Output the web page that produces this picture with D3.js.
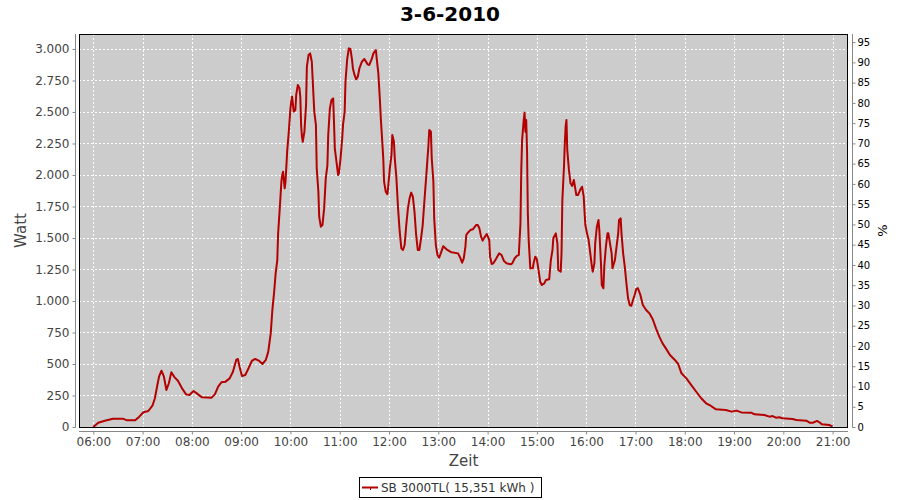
<!DOCTYPE html>
<html><head><meta charset="utf-8">
<script src="https://cdn.jsdelivr.net/npm/d3@7"></script>
<style>body{margin:0;background:#fff}svg{display:block}text{font-family:"DejaVu Sans",sans-serif}</style>
</head><body>
<svg id="c" width="900" height="500"></svg>
<script>
const title = "3-6-2010";
const legendLabel = "SB 3000TL( 15,351 kWh )";
const xTickLabels = ["06:00","07:00","08:00","09:00","10:00","11:00","12:00","13:00","14:00","15:00","16:00","17:00","18:00","19:00","20:00","21:00"];
const yTicksLeft = [0,250,500,750,1000,1250,1500,1750,2000,2250,2500,2750,3000];
const yTicksRight = [0,5,10,15,20,25,30,35,40,45,50,55,60,65,70,75,80,85,90,95];
const times = ["06:00","06:06","06:14","06:24","06:36","06:41","06:51","06:56","07:01","07:07","07:12","07:15","07:18","07:20","07:23","07:26","07:29","07:32","07:35","07:39","07:43","07:48","07:53","07:57","08:02","08:06","08:12","08:24","08:28","08:32","08:36","08:41","08:46","08:50","08:54","08:56","08:58","09:01","09:05","09:09","09:13","09:17","09:22","09:26","09:30","09:33","09:36","09:38","09:40","09:42","09:44","09:45","09:47","09:49","09:50","09:51","09:53","09:54","09:56","09:58","10:00","10:01","10:02","10:04","10:06","10:07","10:09","10:11","10:12","10:13","10:14","10:15","10:17","10:19","10:20","10:22","10:24","10:26","10:27","10:29","10:31","10:32","10:34","10:35","10:37","10:39","10:41","10:43","10:45","10:46","10:48","10:50","10:52","10:53","10:54","10:56","10:58","10:59","11:01","11:03","11:04","11:06","11:07","11:09","11:11","11:13","11:15","11:16","11:18","11:20","11:22","11:24","11:27","11:30","11:34","11:36","11:39","11:41","11:44","11:45","11:47","11:49","11:50","11:51","11:53","11:54","11:56","11:58","11:59","12:01","12:03","12:04","12:06","12:07","12:09","12:11","12:13","12:15","12:17","12:19","12:21","12:23","12:25","12:27","12:29","12:31","12:33","12:35","12:37","12:39","12:41","12:43","12:46","12:48","12:49","12:51","12:52","12:54","12:55","12:57","12:59","13:01","13:03","13:06","13:10","13:16","13:24","13:27","13:29","13:31","13:33","13:34","13:36","13:39","13:42","13:46","13:48","13:50","13:52","13:54","13:56","13:59","14:02","14:03","14:05","14:07","14:10","14:14","14:17","14:20","14:23","14:28","14:30","14:33","14:36","14:38","14:40","14:41","14:42","14:44","14:45","14:46","14:47","14:48","14:49","14:50","14:52","14:55","14:56","14:58","15:00","15:02","15:04","15:06","15:09","15:11","15:15","15:17","15:19","15:20","15:23","15:25","15:26","15:29","15:30","15:31","15:33","15:34","15:35","15:36","15:37","15:39","15:41","15:43","15:45","15:46","15:48","15:50","15:53","15:55","15:57","15:58","15:59","16:01","16:03","16:05","16:07","16:08","16:10","16:11","16:13","16:15","16:16","16:18","16:19","16:21","16:22","16:24","16:26","16:27","16:29","16:31","16:32","16:35","16:37","16:39","16:40","16:42","16:43","16:45","16:47","16:49","16:51","16:53","16:55","16:57","16:59","17:01","17:03","17:06","17:09","17:13","17:17","17:21","17:25","17:29","17:33","17:37","17:42","17:48","17:52","17:56","18:02","18:08","18:14","18:20","18:26","18:32","18:38","18:50","18:57","19:03","19:09","19:21","19:25","19:37","19:43","19:47","19:51","19:55","19:59","20:11","20:16","20:28","20:32","20:36","20:41","20:44","20:47","20:56","21:00"];
const watts = [0,34,50,66,66,53,53,82,117,127,169,228,333,399,447,399,294,347,434,394,367,307,259,254,286,267,236,233,259,320,355,360,386,439,532,540,479,405,413,466,524,540,524,500,532,598,743,929,1061,1220,1325,1537,1735,1947,2000,2026,1894,1947,2185,2344,2529,2582,2622,2503,2516,2635,2714,2688,2622,2397,2304,2264,2344,2556,2860,2952,2965,2899,2767,2503,2397,2053,1868,1669,1590,1603,1735,1974,2079,2317,2529,2595,2608,2423,2212,2106,2000,2013,2132,2291,2397,2503,2741,2913,3005,3000,2913,2847,2794,2759,2780,2847,2899,2921,2878,2873,2921,2965,2992,2926,2807,2582,2450,2344,2132,1947,1868,1847,1907,2053,2159,2317,2264,2132,1974,1735,1550,1418,1405,1444,1603,1735,1815,1860,1828,1709,1524,1405,1405,1498,1603,1788,2053,2238,2357,2344,2132,1947,1656,1444,1365,1344,1378,1435,1410,1386,1378,1339,1304,1339,1431,1524,1542,1563,1569,1603,1603,1577,1511,1479,1503,1532,1484,1352,1294,1299,1331,1378,1365,1317,1299,1291,1299,1339,1360,1365,1616,2040,2278,2437,2495,2344,2437,2198,1696,1484,1259,1259,1299,1352,1331,1246,1153,1127,1140,1167,1172,1325,1405,1498,1537,1458,1246,1233,1378,1802,2066,2251,2384,2437,2198,2040,1934,1913,1960,1921,1841,1841,1886,1907,1828,1709,1603,1537,1484,1378,1272,1233,1299,1458,1590,1643,1563,1299,1127,1101,1272,1431,1537,1537,1458,1378,1259,1325,1431,1537,1643,1656,1537,1378,1272,1140,1021,968,962,1008,1048,1095,1101,1048,968,929,902,855,783,717,664,624,571,532,500,426,386,333,280,228,188,167,140,135,122,130,116,114,101,95,82,87,74,77,69,63,56,50,34,34,48,37,21,16,3];

const svg = d3.select("#c");
const L = 79, T = 34, R = 848, B = 427;
const toDate = s => { const [h,m] = s.split(":").map(Number); return new Date(2010,5,3,h,m); };
const data = times.map((t,i)=>({t:toDate(t), v:watts[i]}));

const x = d3.scaleTime().domain([new Date(2010,5,3,5,42,36), new Date(2010,5,3,21,18,44)]).range([L,R]);
const y = d3.scaleLinear().domain([0,3119]).range([B,T]);
const y2 = d3.scaleLinear().domain([0,97]).range([B,T]);
const hourTicks = xTickLabels.map(toDate);

// plot background
svg.append("rect").attr("x",L).attr("y",T).attr("width",R-L).attr("height",B-T).attr("fill","#cccccc");
// grid
const g = svg.append("g").attr("stroke","#fff").attr("stroke-width",1).attr("stroke-dasharray","2,2");
yTicksLeft.filter(d=>d>0).forEach(d=>{
  const yy = Math.round(y(d))+0.5;
  g.append("line").attr("x1",L).attr("x2",R).attr("y1",yy).attr("y2",yy);
});
hourTicks.forEach(d=>{
  const xx = Math.round(x(d))+0.5;
  g.append("line").attr("x1",xx).attr("x2",xx).attr("y1",T).attr("y2",B);
});

// line
const line = d3.line().x(d=>x(d.t)).y(d=>y(d.v));
svg.append("path").datum(data).attr("d",line).attr("fill","none").attr("stroke","#b40000").attr("stroke-width",2).attr("stroke-linejoin","round");

// frame
svg.append("rect").attr("x",L+0.5).attr("y",T+0.5).attr("width",R-L-1).attr("height",B-T).attr("fill","none").attr("stroke","#000").attr("stroke-width",1);

// left axis
const axL = svg.append("g").attr("transform",`translate(${L-3.5},0)`).call(d3.axisLeft(y).tickValues(yTicksLeft).tickSize(3).tickPadding(3).tickFormat(d=>d3.format(",")(d).replace(/,/g,".")));
axL.select(".domain").attr("stroke","#888").attr("d",`M0,${T}V${B+0.5}`);
axL.selectAll(".tick line").attr("stroke","#888");
axL.selectAll(".tick text").attr("fill","#444").attr("font-size",12).attr("font-family","DejaVu Sans");

// right axis
const axR = svg.append("g").attr("transform",`translate(${R+4.5},0)`).call(d3.axisRight(y2).tickValues(yTicksRight).tickSize(3).tickPadding(2));
axR.select(".domain").attr("stroke","#888").attr("d",`M0,${T}V${B+0.5}`);
axR.selectAll(".tick line").attr("stroke","#888");
axR.selectAll(".tick text").attr("fill","#000").attr("font-size",10).attr("font-family","DejaVu Sans");

// bottom axis
const axB = svg.append("g").attr("transform",`translate(0,${B+4.5})`).call(d3.axisBottom(x).tickValues(hourTicks).tickSize(3).tickPadding(3).tickFormat((d,i)=>xTickLabels[i]));
axB.select(".domain").attr("stroke","#888").attr("d",`M${L},0H${R}`);
axB.selectAll(".tick line").attr("stroke","#888");
axB.selectAll(".tick text").attr("fill","#444").attr("font-size",12).attr("font-family","DejaVu Sans");

// titles
svg.append("text").attr("x",450).attr("y",21).attr("text-anchor","middle").attr("font-size",20).attr("font-weight","bold").attr("fill","#000").text(title);
svg.append("text").attr("transform",`translate(26,${(T+B)/2}) rotate(-90)`).attr("text-anchor","middle").attr("font-size",15).attr("fill","#444").text("Watt");
svg.append("text").attr("transform",`translate(887,${(T+B)/2}) rotate(-90)`).attr("text-anchor","middle").attr("font-size",13).attr("fill","#000").text("%");
svg.append("text").attr("x",(L+R)/2).attr("y",466).attr("text-anchor","middle").attr("font-size",15).attr("fill","#444").text("Zeit");

// legend
svg.append("rect").attr("x",359.5).attr("y",477.5).attr("width",182).attr("height",20).attr("fill","#fff").attr("stroke","#000");
svg.append("line").attr("x1",362).attr("x2",378).attr("y1",487.5).attr("y2",487.5).attr("stroke","#b40000").attr("stroke-width",2);
svg.append("line").attr("x1",370.5).attr("x2",370.5).attr("y1",487).attr("y2",490).attr("stroke","#b40000").attr("stroke-width",1);
svg.append("text").attr("x",381).attr("y",492).attr("font-size",12).attr("fill","#333").text(legendLabel);
</script>
</body></html>
